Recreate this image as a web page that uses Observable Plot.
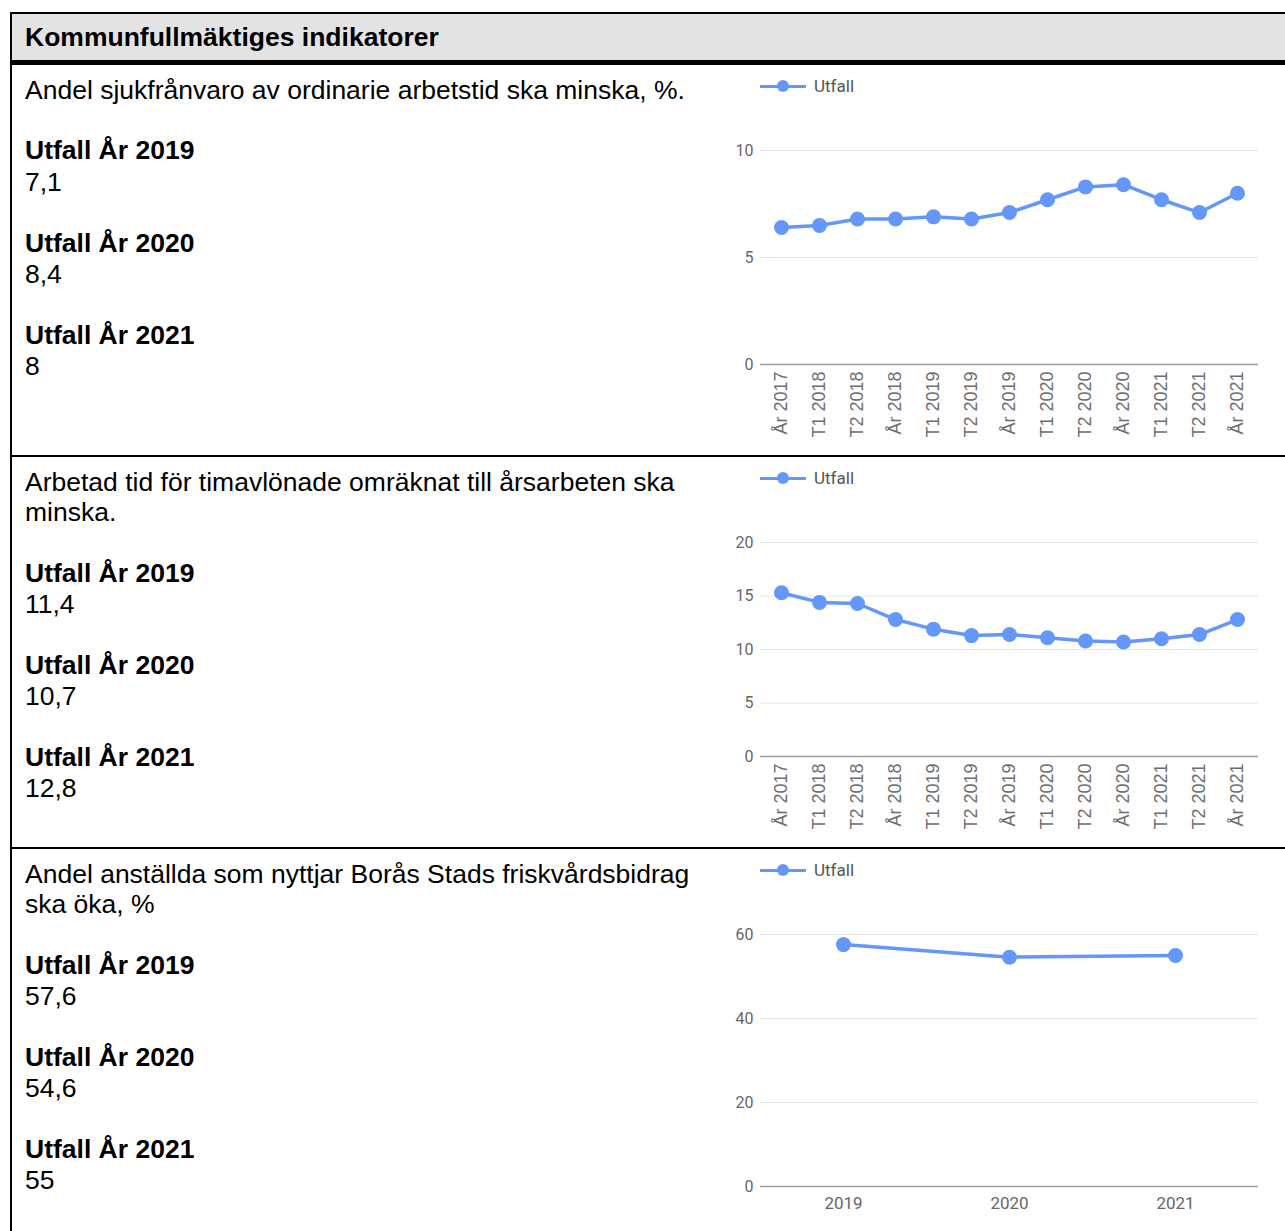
<!DOCTYPE html>
<html><head><meta charset="utf-8">
<script src="https://cdn.jsdelivr.net/npm/d3@7"></script>
<script src="https://cdn.jsdelivr.net/npm/@observablehq/plot@0.6"></script>
<style>
html,body{margin:0;padding:0;background:#fff;}
body{width:1285px;height:1231px;position:relative;overflow:hidden;font-family:"Liberation Sans",Arial,sans-serif;}
.rule{position:absolute;background:#000;}
.txt{position:absolute;left:25px;height:30px;line-height:30px;font-size:25px;color:#000;white-space:nowrap;transform-origin:left center;transform:scaleX(1.06);}
.b{font-weight:bold;}
.chart{position:absolute;left:700px;}
.legend{position:absolute;left:760px;height:20px;font-family:Roboto,sans-serif;font-size:17px;color:#555;}
.legend .ln{position:absolute;left:0;top:9px;width:46px;height:3px;}
.legend .dt{position:absolute;left:17px;top:4px;width:12px;height:12px;border-radius:50%;}
.legend .lb{position:absolute;left:54px;top:0;line-height:20px;}
</style>
</head><body>
<script>
// ---- data ----
const periods = ["År 2017","T1 2018","T2 2018","År 2018","T1 2019","T2 2019","År 2019","T1 2020","T2 2020","År 2020","T1 2021","T2 2021","År 2021"];
const sjukfranvaro = [6.4,6.5,6.8,6.8,6.9,6.8,7.1,7.7,8.3,8.4,7.7,7.1,8.0];
const timavlonade = [15.3,14.4,14.3,12.8,11.9,11.3,11.4,11.1,10.8,10.7,11.0,11.4,12.8];
const years = ["2019","2020","2021"];
const friskvard = [57.6,54.6,55];
const ticks1 = [0,5,10];
const ticks2 = [0,5,10,15,20];
const ticks3 = [0,20,40,60];
const seriesName = "Utfall";
const headerTitle = "Kommunfullmäktiges indikatorer";
const rowTitles = [
  ["Andel sjukfrånvaro av ordinarie arbetstid ska minska, %."],
  ["Arbetad tid för timavlönade omräknat till årsarbeten ska","minska."],
  ["Andel anställda som nyttjar Borås Stads friskvårdsbidrag","ska öka, %"]
];
const rowLabels = ["Utfall År 2019","Utfall År 2020","Utfall År 2021"];
const rowValues = [["7,1","8,4","8"],["11,4","10,7","12,8"],["57,6","54,6","55"]];

const color = "#6497f9";
const body = document.body;

function el(tag, cls, css, text){
  const e = document.createElement(tag);
  if (cls) e.className = cls;
  if (css) Object.assign(e.style, css);
  if (text != null) e.textContent = text;
  body.appendChild(e);
  return e;
}

// table frame
el("div","", {position:"absolute",left:"12px",top:"14px",width:"1273px",height:"46px",background:"#e3e3e3"});
el("div","rule",{left:"10px",top:"12px",width:"1275px",height:"2px"});
el("div","rule",{left:"10px",top:"60px",width:"1275px",height:"5px"});
el("div","rule",{left:"10px",top:"12px",width:"2px",height:"1219px"});
el("div","rule",{left:"10px",top:"455px",width:"1275px",height:"2px"});
el("div","rule",{left:"10px",top:"847px",width:"1275px",height:"2px"});

function line(text, cy, bold){
  return el("div","txt"+(bold?" b":""),{top:(cy-15)+"px"}, text);
}
line(headerTitle, 37, true);

// text columns
const rowTextY = [
  {titles:[90], labels:[150,243,335], values:[182,274,366]},
  {titles:[482,512], labels:[573,665,757], values:[604,696,788]},
  {titles:[874,904], labels:[965,1057,1149], values:[996,1088,1180]}
];
rowTextY.forEach((r,i)=>{
  r.titles.forEach((y,j)=>line(rowTitles[i][j], y, false));
  r.labels.forEach((y,j)=>{ line(rowLabels[j], y, true); line(rowValues[i][j], r.values[j], false); });
});

function legend(top){
  const lg = el("div","legend",{top:(top-10)+"px"});
  const ln = document.createElement("div"); ln.className="ln"; ln.style.background=color; lg.appendChild(ln);
  const dt = document.createElement("div"); dt.className="dt"; dt.style.background=color; lg.appendChild(dt);
  const lb = document.createElement("div"); lb.className="lb"; lb.textContent=seriesName; lg.appendChild(lb);
}

function chart({cats, vals, ticks, top, height, marginBottom, rotate}){
  const data = cats.map((c,i)=>({cat:c, v:vals[i]}));
  const p = Plot.plot({
    width: 585, height, marginLeft: 60, marginRight: 27, marginTop: 85, marginBottom,
    style: {background:"transparent", overflow:"visible"},
    x: {type:"point", domain: cats, padding: 0.5, axis: null},
    y: {domain: [0, d3.max(ticks)], axis: null},
    marks: [
      Plot.gridY(ticks.filter(t=>t!==0), {stroke:"#e6e6e6", strokeOpacity:1, strokeWidth:1}),
      Plot.ruleY([0], {stroke:"#9e9e9e", strokeWidth:1.6}),
      Plot.axisY(ticks, {tickSize:0, tickPadding:7, fontSize:16, fill:"#666", fontFamily:"Roboto", label:null}),
      rotate
        ? Plot.axisX({tickSize:0, tickRotate:-90, tickPadding:7, fontSize:18, fill:"#6e6e6e", fontFamily:"Liberation Sans", label:null})
        : Plot.axisX({tickSize:0, tickPadding:10, fontSize:17, fill:"#666", fontFamily:"Roboto", label:null}),
      Plot.line(data, {x:"cat", y:"v", stroke:color, strokeWidth:3.5}),
      Plot.dot(data, {x:"cat", y:"v", r:7.5, fill:color, stroke:"none"})
    ]
  });
  p.classList.add("chart");
  p.style.top = top + "px";
  body.appendChild(p);
}

chart({cats:periods, vals:sjukfranvaro, ticks:ticks1, top:65, height:390, marginBottom:91, rotate:true});
chart({cats:periods, vals:timavlonade, ticks:ticks2, top:457, height:390, marginBottom:91, rotate:true});
chart({cats:years, vals:friskvard, ticks:ticks3, top:849, height:382, marginBottom:45, rotate:false});
legend(86); legend(478); legend(870);
</script>
</body></html>
